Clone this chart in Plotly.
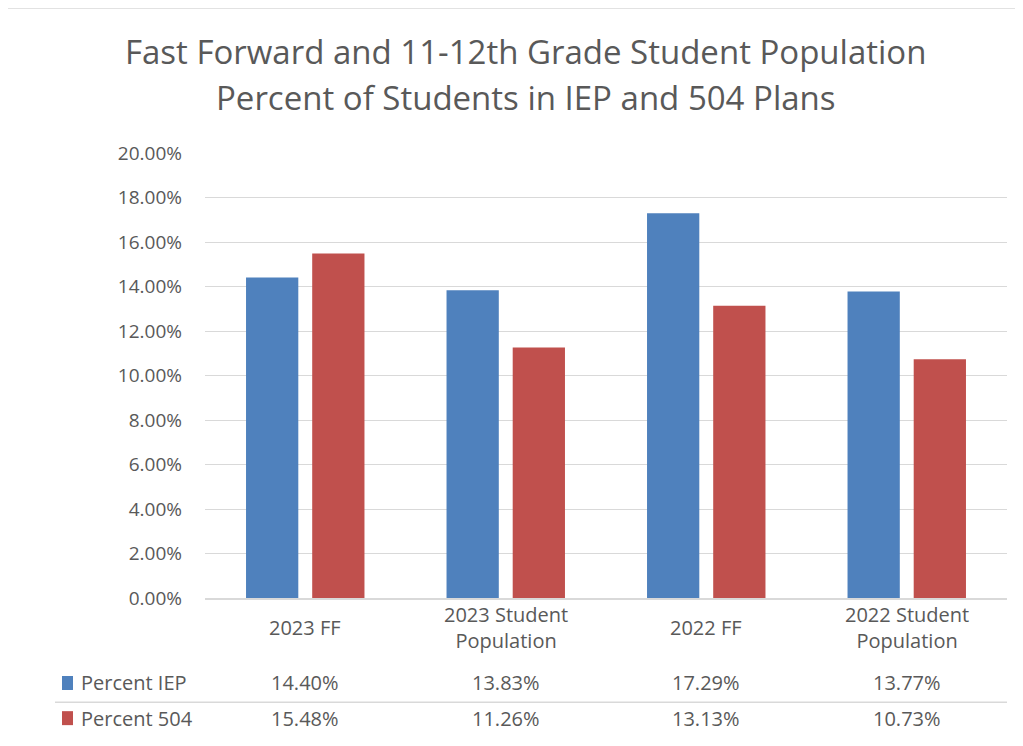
import plotly.graph_objects as go

categories = ["2023 FF", "2023 Student<br>Population", "2022 FF", "2022 Student<br>Population"]
series_names = ["Percent IEP", "Percent 504"]
percent_iep = [14.40, 13.83, 17.29, 13.77]
percent_504 = [15.48, 11.26, 13.13, 10.73]
y_ticks = [0, 2, 4, 6, 8, 10, 12, 14, 16, 18, 20]

BLUE = "#4f81bd"
RED = "#c0504d"
TEXT = "#595959"
GRID = "#d9d9d9"
FONT = "Open Sans"

fig = go.Figure()
for name, vals, color in [(series_names[0], percent_iep, BLUE), (series_names[1], percent_504, RED)]:
    fig.add_trace(go.Bar(x=categories, y=vals, name=name, marker=dict(color=color, line_width=0)))

# category labels, centred vertically like Excel
for cat in categories:
    fig.add_annotation(x=cat, y=-0.067, xref="x", yref="paper", text=cat, showarrow=False,
                       yanchor="middle", font=dict(family=FONT, size=20, color=TEXT))

# data table rows
rows = [(series_names[0], percent_iep, BLUE, -0.191), (series_names[1], percent_504, RED, -0.270)]
for name, vals, color, yy in rows:
    fig.add_shape(type="rect", xref="paper", yref="paper", x0=-0.1783, x1=-0.1646,
                  y0=yy - 0.0157, y1=yy + 0.0157, fillcolor=color, line_width=0)
    fig.add_annotation(x=-0.157, y=yy, xref="paper", yref="paper", text=name, showarrow=False,
                       xanchor="left", yanchor="middle", font=dict(family=FONT, size=20, color=TEXT))
    for cat, v in zip(categories, vals):
        fig.add_annotation(x=cat, y=yy, xref="x", yref="paper", text=f"{v:.2f}%", showarrow=False,
                           yanchor="middle", font=dict(family=FONT, size=20, color=TEXT))

# line between table rows
fig.add_shape(type="line", xref="paper", yref="paper", x0=-0.187, x1=1.0, y0=-0.234, y1=-0.234,
              line=dict(color=GRID, width=1.5))

# chart frame
fig.add_shape(type="rect", xref="paper", yref="paper", x0=-0.2506, x1=1.06, y0=-0.6, y1=1.326,
              line=dict(color=GRID, width=1.5), layer="below")

# title
fig.add_annotation(x=0.4, y=1.227, xref="paper", yref="paper", showarrow=False, yanchor="middle",
                   text="Fast Forward and 11-12th Grade Student Population",
                   font=dict(family=FONT, size=33, color=TEXT))
fig.add_annotation(x=0.4, y=1.1236, xref="paper", yref="paper", showarrow=False, yanchor="middle",
                   text="Percent of Students in IEP and 504 Plans",
                   font=dict(family=FONT, size=33, color=TEXT))

fig.update_layout(
    width=1023, height=746,
    margin=dict(l=197, r=24, t=145, b=156),
    plot_bgcolor="white", paper_bgcolor="white",
    showlegend=False,
    barmode="group", bargap=0.34, bargroupgap=0.21,
    font=dict(family=FONT, color=TEXT),
    xaxis=dict(showticklabels=False, showline=True, linecolor=GRID, linewidth=1.5, ticks=""),
    yaxis=dict(range=[0, 20], tickvals=y_ticks, ticktext=[f"{t:.2f}%" for t in y_ticks],
               showgrid=True, gridcolor=GRID, gridwidth=1.2, zeroline=False,
               ticklabelstandoff=22, tickfont=dict(family=FONT, size=19, color=TEXT)),
)

fig.write_html("out.html")
